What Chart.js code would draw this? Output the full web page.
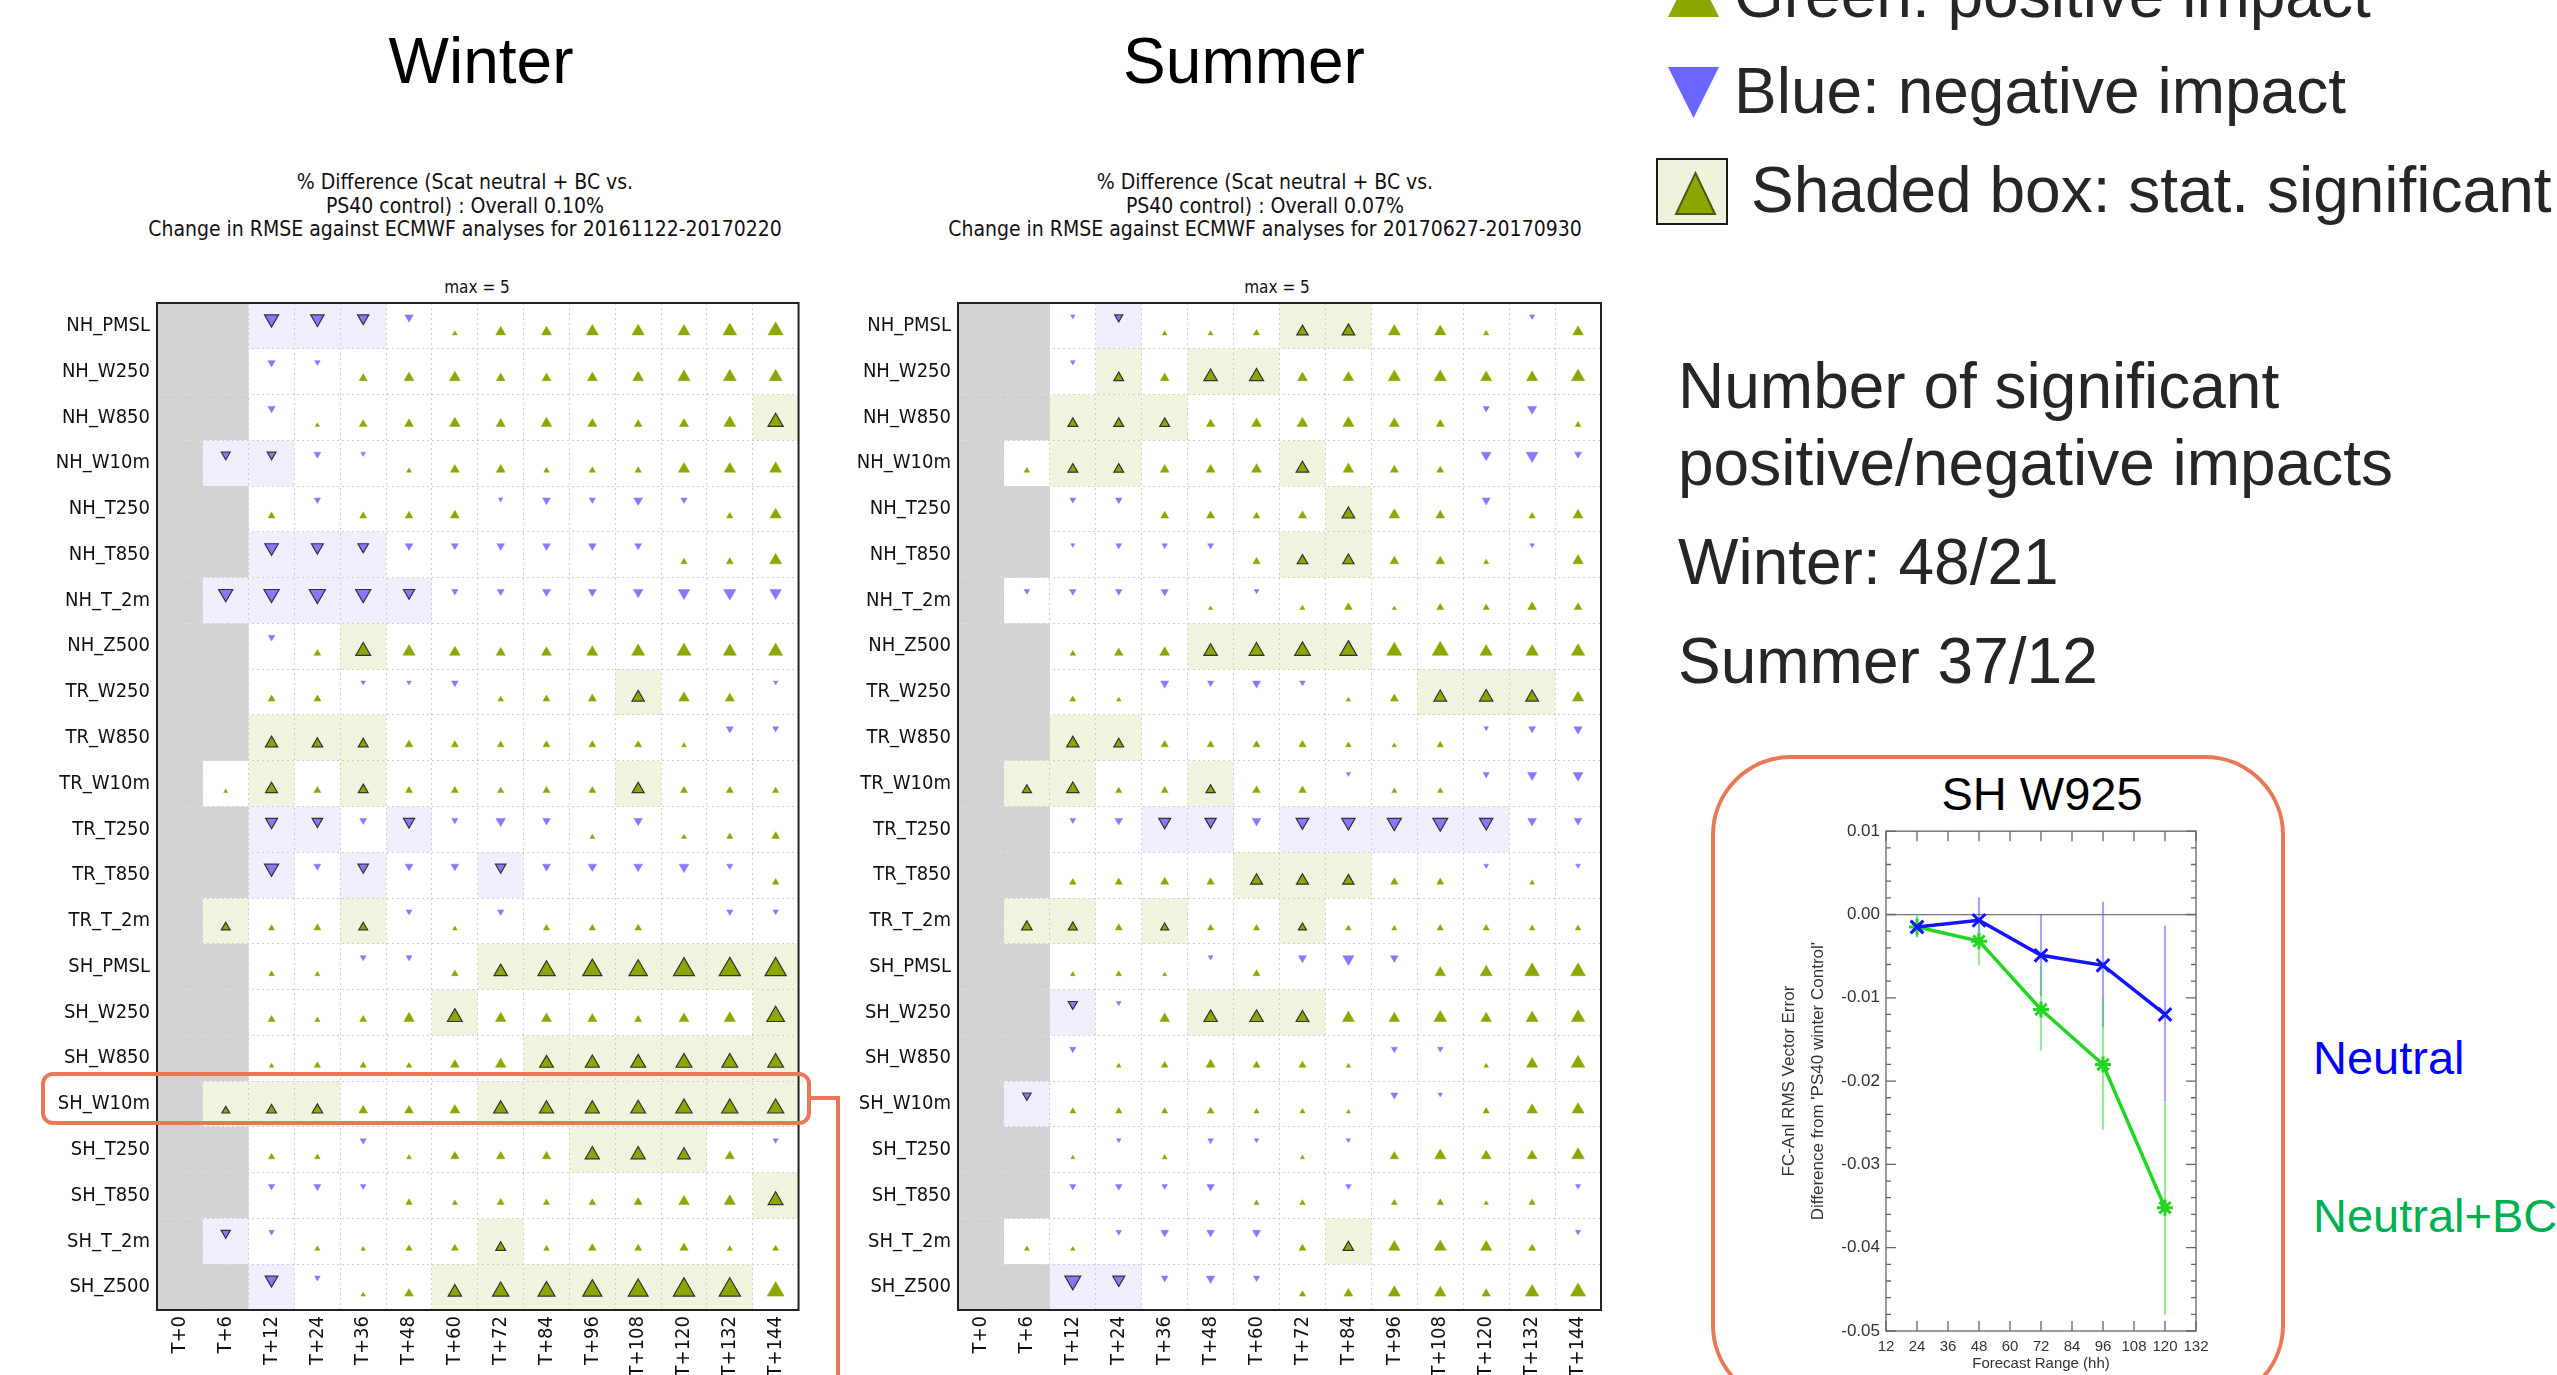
<!DOCTYPE html>
<html>
<head>
<meta charset="utf-8">
<title>Scatterometer impact scorecards</title>
<script src="https://cdn.jsdelivr.net/npm/chart.js@4.4.1/dist/chart.umd.min.js"></script>
<style>
  html, body { margin: 0; padding: 0; background: #fff; }
  #slide { position: relative; width: 2557px; height: 1375px; overflow: hidden;
           font-family: "Liberation Sans", Arial, sans-serif; color: #262626; }
  .txt { position: absolute; white-space: nowrap; line-height: 1; }
  .big { font-size: 64px; }
  .season { font-size: 64px; color: #000; width: 400px; text-align: center; }
  .card { font-family: "DejaVu Sans Condensed", "DejaVu Sans", sans-serif; font-stretch: condensed;
          color: #111; text-align: center; width: 640px; }
  .sub { font-size: 21px; line-height: 23.5px; }
  .maxlab { font-size: 17px; }
  canvas, svg { position: absolute; }
  .orange { position: absolute; box-sizing: border-box; border: 4px solid #e97856; }
</style>
</head>
<body>
<div id="slide">
  <div class="txt season" style="left:281px; top:29px;">Winter</div>
  <div class="txt season" style="left:1044px; top:29px;">Summer</div>

  <div class="txt card sub" style="left:145px; top:171px;">% Difference (Scat neutral + BC vs.<br>PS40 control) : Overall 0.10%<br>Change in RMSE against ECMWF analyses for 20161122-20170220</div>
  <div class="txt card sub" style="left:945px; top:171px;">% Difference (Scat neutral + BC vs.<br>PS40 control) : Overall 0.07%<br>Change in RMSE against ECMWF analyses for 20170627-20170930</div>
  <div class="txt card maxlab" style="left:157px; top:279px;">max = 5</div>
  <div class="txt card maxlab" style="left:957px; top:279px;">max = 5</div>

  <canvas id="winter" width="812" height="1091" style="left:0px; top:284px;"></canvas>
  <canvas id="summer" width="812" height="1091" style="left:800px; top:284px;"></canvas>

  <!-- legend icons -->
  <svg width="80" height="240" style="left:1650px; top:-40px;" viewBox="1650 -40 80 240">
    <polygon points="1668,17 1719,17 1693.5,-34" fill="#8aa800"/>
    <polygon points="1668,67 1719,67 1693.5,118" fill="#6a66ff"/>
  </svg>
  <svg width="80" height="80" style="left:1652px; top:154px;" viewBox="1652 154 80 80">
    <rect x="1657" y="159" width="70" height="65" fill="#eef3dd" stroke="#1a1a1a" stroke-width="2"/>
    <polygon points="1676,214 1715,214 1695.5,173" fill="#8aa800" stroke="#4a5a10" stroke-width="2"/>
  </svg>

  <div class="txt big" style="left:1734px; top:-37px;">Green: positive impact</div>
  <div class="txt big" style="left:1734px; top:59px;">Blue: negative impact</div>
  <div class="txt big" style="left:1751px; top:158px;">Shaded box: stat. significant</div>

  <div class="txt big" style="left:1678px; top:354px;">Number of significant</div>
  <div class="txt big" style="left:1678px; top:431px;">positive/negative impacts</div>
  <div class="txt big" style="left:1678px; top:530px;">Winter: 48/21</div>
  <div class="txt big" style="left:1678px; top:629px;">Summer 37/12</div>

  <!-- highlight of the SH_W10m row and the link to the inset -->
  <div class="orange" style="left:41px; top:1072px; width:770px; height:53px; border-radius:12px;"></div>
  <div class="orange" style="left:809px; top:1096px; width:31px; height:4px; border-width:2px 0 2px 0;"></div>
  <div class="orange" style="left:836px; top:1096px; width:4px; height:290px; border-width:0 2px 0 2px;"></div>

  <div class="orange" style="left:1711px; top:755px; width:574px; height:650px; border-radius:80px;"></div>
  <div class="txt" style="left:1842px; top:770px; width:400px; text-align:center; font-size:47px; color:#000;">SH W925</div>
  <canvas id="inset" width="470" height="560" style="left:1760px; top:815px;"></canvas>

  <div class="txt" style="left:2313px; top:1034px; font-size:47px; color:#0000ff;">Neutral</div>
  <div class="txt" style="left:2313px; top:1192px; font-size:47px; color:#00b050;">Neutral+BC</div>
</div>

<script>
// ---- scorecard axes ----
const leadTimes = ["T+0", "T+6", "T+12", "T+24", "T+36", "T+48", "T+60", "T+72",
                   "T+84", "T+96", "T+108", "T+120", "T+132", "T+144"];
const rowNames = ["NH_PMSL", "NH_W250", "NH_W850", "NH_W10m", "NH_T250", "NH_T850", "NH_T_2m", "NH_Z500",
                  "TR_W250", "TR_W850", "TR_W10m", "TR_T250", "TR_T850", "TR_T_2m",
                  "SH_PMSL", "SH_W250", "SH_W850", "SH_W10m", "SH_T250", "SH_T850", "SH_T_2m", "SH_Z500"];

// % change in RMSE (positive = improvement), null = no verification
const winterImpact = [
  [null, null, -3.0, -2.8, -2.2, -1.4,  0.4,  1.8,  1.8,  2.4,  2.5,  2.4,  2.9,  3.3],
  [null, null, -1.1, -0.6,  1.3,  1.8,  2.1,  1.5,  1.5,  1.8,  2.1,  2.5,  2.7,  2.7],
  [null, null, -1.1,  0.2,  1.2,  1.5,  2.0,  1.6,  2.0,  1.6,  1.2,  1.6,  2.4,  3.3],
  [null, -1.5, -1.5, -1.0, -0.4,  0.4,  1.5,  1.5,  0.6,  0.8,  0.8,  2.2,  2.2,  2.4],
  [null, null,  1.0, -0.8,  1.0,  1.2,  1.5, -0.3, -1.2, -0.8, -1.5, -0.8,  0.8,  2.2],
  [null, null, -2.8, -2.4, -2.0, -1.2, -1.0, -1.2, -1.2, -1.2, -1.0,  0.8,  1.0,  2.4],
  [null, -3.0, -3.3, -3.6, -3.3, -2.2, -0.8, -1.0, -1.3, -1.3, -1.7, -2.3, -2.5, -2.3],
  [null, null, -0.9,  0.9,  3.2,  2.5,  2.0,  1.6,  1.8,  2.1,  2.7,  3.0,  2.7,  3.0],
  [null, null,  1.0,  1.0, -0.3, -0.3, -0.9,  0.6,  1.0,  1.3,  2.5,  2.0,  1.6, -0.3],
  [null, null,  2.5,  2.0,  1.8,  1.2,  1.0,  0.9,  1.0,  1.0,  1.0,  0.4, -1.0, -0.7],
  [null,  0.2,  2.4,  1.0,  1.8,  1.0,  1.0,  0.8,  1.0,  1.0,  2.4,  1.0,  1.0,  0.8],
  [null, null, -2.4, -2.0, -1.0, -2.2, -0.8, -1.7, -1.2,  0.4, -1.4,  0.4,  0.8,  1.2],
  [null, null, -3.0, -1.0, -2.0, -1.2, -1.2, -2.0, -1.3, -1.4, -1.5, -1.8, -0.8,  0.9],
  [null,  1.5,  0.7,  1.0,  1.5, -0.7,  0.3, -0.8,  0.8,  0.8,  0.9,  0.0, -0.8, -0.6],
  [null, null,  0.6,  0.4, -0.7, -0.7,  0.9,  2.8,  3.9,  4.4,  4.2,  4.9,  5.0,  5.0],
  [null, null,  1.0,  0.5,  1.0,  2.0,  3.2,  2.0,  1.8,  1.6,  1.0,  1.8,  2.2,  4.0],
  [null, null,  0.3,  0.8,  0.8,  0.6,  1.5,  2.0,  2.9,  3.0,  3.2,  3.5,  3.5,  3.5],
  [null,  1.2,  1.8,  2.0,  1.5,  1.5,  1.8,  3.0,  3.0,  3.0,  3.2,  3.6,  3.6,  3.6],
  [null, null,  0.8,  0.6, -0.8,  0.4,  1.4,  1.4,  1.4,  3.0,  3.0,  2.6,  1.6, -0.5],
  [null, null, -0.8, -1.0, -0.6,  0.9,  0.5,  1.0,  0.8,  0.9,  1.3,  2.0,  2.2,  3.2],
  [null, -1.6, -0.6,  0.5,  0.3,  0.8,  1.0,  1.8,  0.6,  1.2,  1.0,  1.4,  0.5,  0.7],
  [null, null, -2.6, -0.6,  0.3,  1.5,  2.8,  3.6,  3.8,  4.4,  4.6,  5.0,  5.0,  3.8]
];
// x = statistically significant
const winterSignif = [
  "..xxx.........", "..............", ".............x", ".xx...........",
  "..............", "..xxx.........", ".xxxxx........", "....x.........",
  "..........x...", "..xxx.........", "..x.x.....x...", "..xx.x........",
  "..x.x..x......", ".x..x.........", ".......xxxxxxx", "......x......x",
  "........xxxxxx", ".xxx...xxxxxxx", ".........xxx..", ".............x",
  ".x.....x......", "..x...xxxxxxx."
];

const summerImpact = [
  [null, null, -0.3, -1.3,  0.4,  0.4,  0.8,  2.2,  2.6,  2.4,  2.2,  0.5, -0.5,  2.0],
  [null, null, -0.4,  1.8,  1.5,  2.8,  3.0,  1.8,  2.0,  2.5,  2.5,  2.2,  2.2,  2.8],
  [null, null,  1.8,  1.8,  1.8,  1.4,  1.8,  2.0,  2.2,  1.8,  1.3, -0.8, -1.6,  0.6],
  [null,  0.6,  1.8,  1.8,  1.5,  1.5,  1.8,  2.6,  2.0,  1.3,  1.0, -1.8, -2.4, -1.0],
  [null, null, -0.7, -0.9,  1.2,  1.3,  0.9,  1.3,  2.6,  2.0,  1.5, -1.3,  0.8,  1.8],
  [null, null, -0.2, -0.7, -0.6, -0.7,  1.1,  2.0,  2.2,  1.5,  1.5,  0.5, -0.3,  2.0],
  [null, -0.6, -0.9, -0.9, -1.1,  0.2, -0.4,  0.4,  1.2,  0.2,  1.0,  0.8,  1.5,  1.2],
  [null, null,  0.6,  1.4,  1.8,  2.8,  3.2,  3.4,  3.8,  3.3,  3.6,  2.5,  2.5,  2.8],
  [null, null,  0.7,  0.3, -1.3, -0.8, -1.3, -0.6,  0.3,  1.3,  2.6,  2.8,  2.6,  2.2],
  [null, null,  2.5,  1.8,  1.1,  1.0,  1.0,  1.1,  0.6,  0.3,  0.8, -0.3, -1.0, -1.4],
  [null,  1.6,  2.5,  0.8,  1.0,  1.6,  1.2,  1.2, -0.3,  0.5,  0.6, -0.8, -1.6, -1.8],
  [null, null, -0.7, -1.2, -2.4, -2.2, -1.5, -2.6, -2.8, -3.0, -3.2, -2.8, -1.5, -1.2],
  [null, null,  0.9,  1.0,  1.3,  1.1,  2.4,  2.4,  2.2,  1.1,  1.0, -0.4,  0.4, -0.4],
  [null,  2.0,  1.6,  1.0,  1.3,  0.8,  0.8,  1.3,  0.6,  0.5,  0.8,  0.8,  0.6,  0.6],
  [null, null,  0.4,  0.6,  0.2, -0.4,  1.0, -1.3, -2.2, -1.2,  2.0,  2.4,  3.2,  3.2],
  [null, null, -1.6, -0.4,  1.8,  2.8,  2.8,  2.6,  2.4,  2.0,  2.6,  2.0,  2.4,  2.8],
  [null, null, -0.8,  0.3,  0.9,  1.6,  1.0,  1.0,  0.3, -0.8, -0.6,  0.3,  2.2,  2.9],
  [null, -1.4,  0.7,  0.8,  0.7,  0.9,  0.5,  0.5,  0.2, -1.0, -0.3,  0.8,  2.0,  2.4],
  [null, null,  0.2, -0.3,  0.4, -0.6, -0.3,  0.2, -0.3,  1.4,  2.2,  1.8,  1.8,  2.6],
  [null, null, -0.8, -0.9, -0.6, -1.1,  0.5,  0.6, -0.6,  0.7,  0.9,  0.3,  0.8, -0.5],
  [null,  0.4,  0.3, -0.6, -1.2, -1.2, -1.3,  1.0,  2.0,  2.2,  2.4,  2.2,  1.0, -0.5],
  [null, null, -3.5, -2.4, -0.9, -1.4, -0.8,  0.8,  1.5,  2.4,  2.2,  1.4,  2.8,  3.3]
];
const summerSignif = [
  "...x...xx.....", "...x.xx.......", "..xxx.........", "..xx...x......",
  "........x.....", ".......xx.....", "..............", ".....xxxx.....",
  "..........xxx.", "..xx..........", ".xx..x........", "....xx.xxxxx..",
  "......xxx.....", ".xx.x..x......", "..............", "..x..xxx......",
  "..............", ".x............", "..............", "..............",
  "........x.....", "..xx.........."
];

// ---- SH W925 inset: difference in FC-Anl RMS vector error ----
const rangeHours  = [24, 48, 72, 96, 120];
const neutralDiff = [-0.0015, -0.0007, -0.0049, -0.0061, -0.0120];
const neutralLow  = [-0.0027, -0.0035, -0.0097, -0.0135, -0.0224];
const neutralHigh = [-0.0004,  0.0020,  0.0000,  0.0015, -0.0014];
const bcDiff      = [-0.0015, -0.0032, -0.0114, -0.0180, -0.0352];
const bcLow       = [-0.0026, -0.0060, -0.0163, -0.0258, -0.0480];
const bcHigh      = [ 0.0000, -0.0005, -0.0063, -0.0100, -0.0225];

const GREEN = "#8aa800", BLUE = "#8878ff";
const SHADE_POS = "#eff4df", SHADE_NEG = "#efeefc", NO_DATA = "#d3d3d3";
const CARD_FONT = "'DejaVu Sans Condensed', 'DejaVu Sans', sans-serif";

Chart.defaults.animation = false;
Chart.defaults.events = [];
Chart.defaults.plugins.legend.display = false;
Chart.defaults.plugins.tooltip.enabled = false;

function pickCells(impact, signif, up, sig) {
  const pts = [];
  impact.forEach((row, r) => row.forEach((v, c) => {
    if (v === null || v === 0) return;
    if ((v > 0) !== up) return;
    if ((signif[r][c] === "x") !== sig) return;
    pts.push({ x: leadTimes[c], y: rowNames[r], v: v });
  }));
  return pts;
}

const triSize = (ctx) => ctx.raw ? 2 + 2.05 * Math.abs(ctx.raw.v) : 0;

function makeScorecard(id, impact, signif, axisWidth) {
  // shaded / grey boxes behind the markers, and the frame
  const cells = {
    id: "cells",
    beforeDraw(chart) {
      const { ctx, scales: { x, y } } = chart;
      ctx.save();
      impact.forEach((row, r) => row.forEach((v, c) => {
        let fill = null;
        if (v === null) fill = NO_DATA;
        else if (signif[r][c] === "x") fill = v > 0 ? SHADE_POS : SHADE_NEG;
        if (!fill) return;
        const x0 = x.getPixelForValue(c - 0.5), x1 = x.getPixelForValue(c + 0.5);
        const y0 = y.getPixelForValue(r - 0.5), y1 = y.getPixelForValue(r + 0.5);
        ctx.fillStyle = fill;
        ctx.fillRect(x0, y0, x1 - x0, y1 - y0);
      }));
      ctx.restore();
    },
    afterDatasetsUpdate(chart) {
      // up markers sit on a common base line, down markers hang from a common top line
      chart.data.datasets.forEach((ds, i) => {
        chart.getDatasetMeta(i).data.forEach(pt => {
          const r = pt.options.radius;
          pt.y += ds.pointRotation === 180 ? r / 2 - 11 : 9 - r / 2;
        });
      });
    },
    afterDatasetsDraw(chart) {
      const { ctx, chartArea: a } = chart;
      ctx.save();
      ctx.strokeStyle = "#222";
      ctx.lineWidth = 2;
      ctx.strokeRect(a.left, a.top, a.right - a.left, a.bottom - a.top);
      ctx.restore();
    }
  };

  const marker = (up, sig) => ({
    data: pickCells(impact, signif, up, sig),
    pointStyle: "triangle",
    pointRotation: up ? 0 : 180,
    pointRadius: triSize,
    pointHoverRadius: triSize,
    pointBackgroundColor: up ? GREEN : BLUE,
    pointBorderColor: sig ? "#333" : (up ? GREEN : BLUE),
    pointBorderWidth: sig ? 1.2 : 0.5
  });

  return new Chart(document.getElementById(id), {
    type: "scatter",
    data: { datasets: [marker(true, false), marker(false, false), marker(true, true), marker(false, true)] },
    options: {
      responsive: false,
      layout: { padding: { top: 7, right: 10, left: 0, bottom: 0 } },
      scales: {
        x: {
          type: "category", labels: leadTimes, offset: true,
          grid: { offset: true, color: "#cfcfcf", lineWidth: 1, drawTicks: false },
          border: { display: false, dash: [2, 3] },
          ticks: { autoSkip: false, minRotation: 90, maxRotation: 90, padding: 6, color: "#111",
                   font: { family: CARD_FONT, size: 20 } },
          afterFit: (s) => { s.height = 65; }
        },
        y: {
          type: "category", labels: rowNames, offset: true,
          grid: { offset: true, color: "#cfcfcf", lineWidth: 1, drawTicks: false },
          border: { display: false, dash: [2, 3] },
          ticks: { autoSkip: false, padding: 7, color: "#111", font: { family: CARD_FONT, size: 20 } },
          afterFit: (s) => { s.width = axisWidth; }
        }
      }
    },
    plugins: [cells]
  });
}

makeScorecard("winter", winterImpact, winterSignif, 157);
makeScorecard("summer", summerImpact, summerSignif, 158);

// ---- inset line chart ----
const X_MIN = 12, X_MAX = 132, Y_MIN = -0.05, Y_MAX = 0.01;
const frameTicks = {
  id: "frameTicks",
  afterDraw(chart) {
    const { ctx, chartArea: a, scales: { x, y } } = chart;
    ctx.save();
    ctx.strokeStyle = "#666";
    ctx.lineWidth = 1.3;
    ctx.strokeRect(a.left, a.top, a.right - a.left, a.bottom - a.top);
    ctx.beginPath();
    for (let h = X_MIN; h <= X_MAX; h += 12) {
      const px = x.getPixelForValue(h);
      ctx.moveTo(px, a.bottom); ctx.lineTo(px, a.bottom - 10);
      ctx.moveTo(px, a.top); ctx.lineTo(px, a.top + 10);
    }
    for (let k = 0; k <= 30; k++) {
      const py = y.getPixelForValue(Y_MIN + k * 0.002);
      const len = k % 5 === 0 ? 10 : 5;
      ctx.moveTo(a.left, py); ctx.lineTo(a.left + len, py);
      ctx.moveTo(a.right, py); ctx.lineTo(a.right - len, py);
    }
    ctx.stroke();
    ctx.restore();
  }
};

const INSET_FONT = "'Liberation Sans', Arial, sans-serif";
new Chart(document.getElementById("inset"), {
  type: "line",
  data: {
    datasets: [
      { type: "bar", data: rangeHours.map((h, i) => ({ x: h, y: [neutralLow[i], neutralHigh[i]] })),
        backgroundColor: "rgba(90,90,255,0.55)", barThickness: 1.5, grouped: false, order: 5 },
      { type: "bar", data: rangeHours.map((h, i) => ({ x: h, y: [bcLow[i], bcHigh[i]] })),
        backgroundColor: "rgba(70,215,70,0.55)", barThickness: 1.5, grouped: false, order: 4 },
      { label: "Neutral", data: rangeHours.map((h, i) => ({ x: h, y: neutralDiff[i] })),
        borderColor: "#1414ff", borderWidth: 3.5, pointStyle: "crossRot", pointRadius: 9,
        pointBorderWidth: 3, pointBorderColor: "#1414ff", order: 0 },
      { label: "Neutral+BC", data: rangeHours.map((h, i) => ({ x: h, y: bcDiff[i] })),
        borderColor: "#22d622", borderWidth: 3.5, pointStyle: "star", pointRadius: 8,
        pointBorderWidth: 3, pointBorderColor: "#22d622", order: 1 }
    ]
  },
  options: {
    responsive: false,
    layout: { padding: { top: 15, right: 34, left: 0, bottom: 0 } },
    scales: {
      x: {
        type: "linear", min: X_MIN, max: X_MAX, offset: false,
        grid: { display: false, drawTicks: false, offset: false },
        border: { display: false },
        ticks: { stepSize: 12, padding: 7, autoSkip: false, minRotation: 0, maxRotation: 0,
                 color: "#333", font: { family: INSET_FONT, size: 15 } },
        title: { display: true, text: "Forecast Range (hh)", color: "#333",
                 font: { family: INSET_FONT, size: 15 }, padding: { top: 0, bottom: 2 } },
        afterFit: (s) => { s.height = 44; }
      },
      y: {
        type: "linear", min: Y_MIN, max: Y_MAX,
        grid: { drawTicks: false, lineWidth: 1.2,
                color: (c) => c.tick && Math.abs(c.tick.value) < 1e-9 ? "#777" : "rgba(0,0,0,0)" },
        border: { display: false },
        ticks: { stepSize: 0.01, padding: 6, color: "#333", font: { family: INSET_FONT, size: 17 },
                 callback: (v) => (Math.abs(v) < 1e-9 ? 0 : v).toFixed(2) },
        title: { display: true, text: ["FC-Anl RMS Vector Error", "Difference from 'PS40 winter Control'"],
                 color: "#333", font: { family: INSET_FONT, size: 17, lineHeight: 1.7 },
                 padding: { top: 15, bottom: 0 } },
        afterFit: (s) => { s.width = 126; }
      }
    }
  },
  plugins: [frameTicks]
});
</script>
</body>
</html>
